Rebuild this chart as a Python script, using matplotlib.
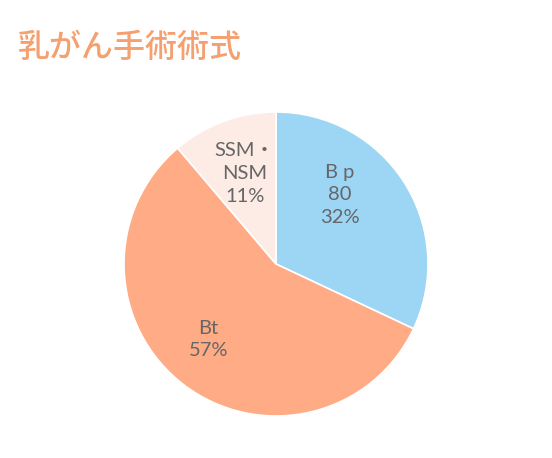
import numpy as np
import matplotlib
matplotlib.use('Agg')
import matplotlib.pyplot as plt

# data
labels = ['B p\n80', 'Bt', 'SSM・\nNSM']
values = [80, 142, 28]
colors = ['#9dd5f5', '#ffab85', '#fdece6']

fig = plt.figure(figsize=(5.52, 4.58), dpi=100)
fig.patch.set_facecolor('white')

# pie centre (276, 264) px, radius 152 px
ax = fig.add_axes([124 / 552, 42 / 458, 304 / 552, 304 / 458])
wedges, _ = ax.pie(values, colors=colors, startangle=90, counterclock=False,
                   radius=1, wedgeprops=dict(edgecolor='white', linewidth=1.2))
ax.set_xlim(-1, 1)
ax.set_ylim(-1, 1)
ax.set_aspect('equal')
ax.axis('off')

# labels inside wedges
total = sum(values)
offsets = [(0.26, 0.62), (-0.077, 0.667), (-0.02, 0.63)]  # (angle shift in rad, radius)
for w, lab, v, (da, rr) in zip(wedges, labels, values, offsets):
    mid = np.deg2rad((w.theta1 + w.theta2) / 2) + da
    pct = round(v / total * 100)
    ax.text(rr * np.cos(mid), rr * np.sin(mid), f'{lab}\n{pct}%',
            ha='center', va='center', fontsize=14.5, color='#666666',
            family=['Lato', 'Noto Sans CJK JP', 'DejaVu Sans'], linespacing=1.4)

fig.text(18 / 552, 1 - 48 / 458, '乳がん手術術式', fontsize=23, color='#f5a070',
         family=['Noto Sans CJK JP'], weight='medium', ha='left', va='center')

fig.savefig('out.png', dpi=100)
